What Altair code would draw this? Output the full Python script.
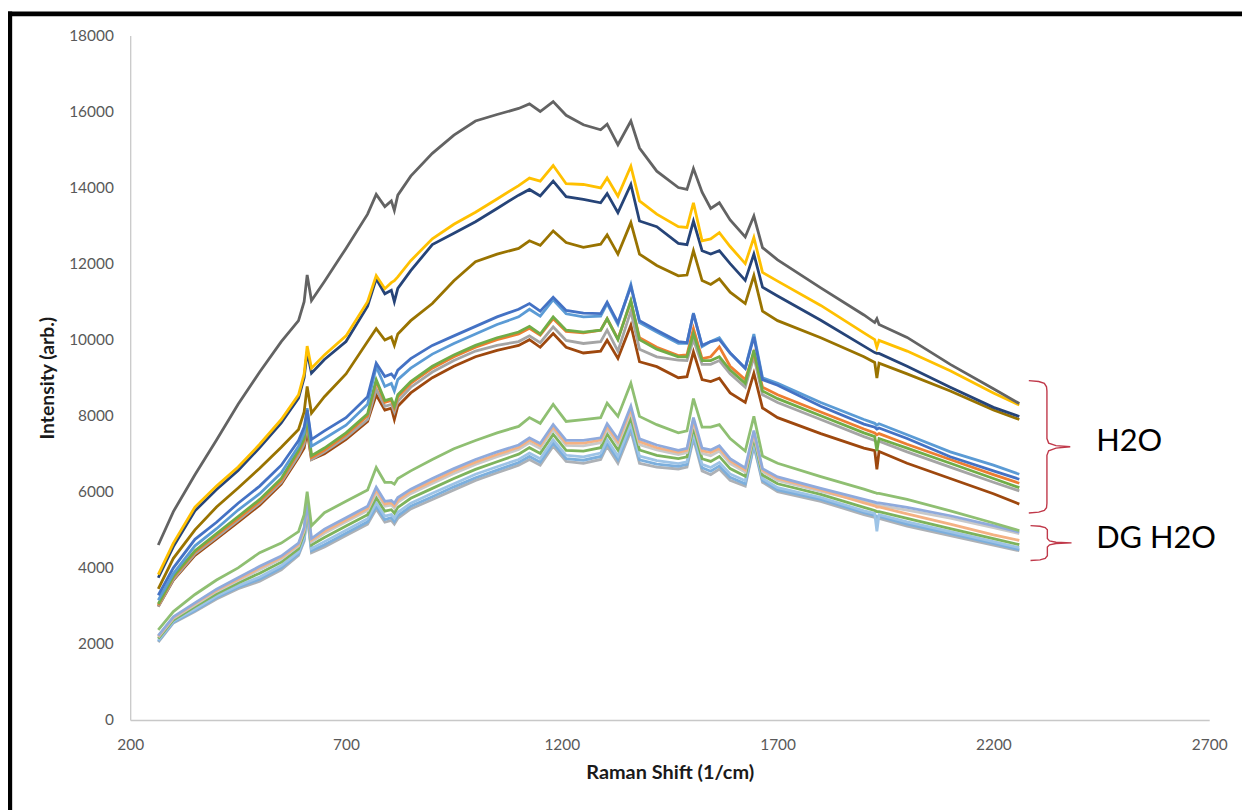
import altair as alt
import pandas as pd

# Raman shift grid (1/cm)
raman_shift = [265, 300, 350, 400, 450, 500, 550, 590,
               603, 610, 620, 650, 700, 750, 770, 790,
               805, 812, 820, 850, 900, 950, 1000, 1050,
               1100, 1125, 1150, 1180, 1210, 1250, 1290, 1305,
               1330, 1360, 1380, 1420, 1470, 1490, 1505, 1525,
               1545, 1565, 1590, 1625, 1645, 1665, 1700, 1800,
               1900, 1925, 1930, 1935, 2000, 2100, 2200, 2260]

# ---- H2O group (top four) ----
h2o_dark_gray = [4600, 5480, 6450, 7360, 8300, 9150, 9950, 10500,
                 11000, 11700, 11030, 11530, 12400, 13300, 13820, 13500,
                 13650, 13400, 13800, 14300, 14900, 15380, 15750, 15920,
                 16080, 16200, 16000, 16260, 15900, 15650, 15520, 15665,
                 15125, 15750, 15040, 14430, 14000, 13950, 14500, 13880,
                 13450, 13600, 13150, 12700, 13250, 12420, 12100, 11360,
                 10650, 10450, 10550, 10400, 10060, 9350, 8710, 8320]
h2o_gold = [3820, 4650, 5600, 6150, 6650, 7250, 7900, 8550,
            9100, 9830, 9250, 9600, 10100, 11000, 11685, 11340,
            11500, 11550, 11650, 12077, 12650, 13035, 13350, 13700,
            14050, 14250, 14170, 14580, 14100, 14080, 13990, 14253,
            13775, 14560, 13650, 13300, 12970, 12950, 13600, 12600,
            12650, 12816, 12450, 12000, 12685, 11770, 11540, 10900,
            10180, 10000, 9800, 9980, 9700, 9180, 8600, 8280]
h2o_navy = [3740, 4560, 5500, 6060, 6560, 7160, 7810, 8460,
            9000, 9680, 9120, 9480, 9950, 10880, 11600, 11207,
            11300, 11000, 11350, 11815, 12500, 12800, 13100, 13450,
            13800, 13950, 13780, 14170, 13760, 13690, 13600, 13840,
            13340, 14080, 13120, 12970, 12530, 12500, 13120, 12340,
            12250, 12340, 12000, 11560, 12250, 11380, 11150, 10510,
            9830, 9660, 9640, 9640, 9300, 8750, 8220, 7980]
h2o_olive = [3450, 4250, 5000, 5600, 6100, 6620, 7170, 7640,
             8100, 8770, 8070, 8500, 9100, 9950, 10290, 9990,
             10070, 9850, 10150, 10500, 10950, 11550, 12050, 12250,
             12400, 12600, 12480, 12860, 12555, 12430, 12510, 12755,
             12250, 13077, 12250, 11950, 11680, 11700, 12340, 11555,
             11450, 11600, 11250, 10950, 11685, 10750, 10500, 10050,
             9550, 9400, 8990, 9380, 9100, 8650, 8150, 7900]

# ---- H2O group (middle six) ----
h2o_blue = [3280, 4000, 4750, 5200, 5700, 6150, 6700, 7350,
            7700, 8150, 7380, 7600, 7950, 8500, 9380, 9030,
            9100, 9000, 9200, 9500, 9850, 10100, 10350, 10600,
            10800, 10950, 10750, 11118, 10770, 10700, 10685, 10988,
            10450, 11400, 10500, 10250, 9950, 9920, 10685, 9850,
            9950, 10000, 9650, 9250, 10073, 8950, 8800, 8250,
            7780, 7700, 7650, 7680, 7400, 6920, 6550, 6330]
h2o_light_blue = [3150, 3850, 4580, 5030, 5520, 5950, 6500, 7200,
                  7550, 8200, 7200, 7400, 7750, 8300, 9290, 8770,
                  8850, 8650, 8950, 9250, 9620, 9900, 10150, 10400,
                  10600, 10800, 10620, 11050, 10680, 10600, 10620, 10950,
                  10400, 11450, 10450, 10200, 9900, 9900, 10700, 9820,
                  9950, 10050, 9650, 9250, 10150, 9000, 8850, 8350,
                  7900, 7800, 7750, 7790, 7500, 7050, 6700, 6460]
h2o_green = [3050, 3780, 4450, 4900, 5350, 5800, 6350, 7100,
             7400, 8000, 6950, 7150, 7550, 8050, 8950, 8400,
             8450, 8250, 8550, 8900, 9300, 9600, 9850, 10050,
             10200, 10350, 10150, 10600, 10250, 10200, 10250, 10550,
             10000, 11030, 10000, 9750, 9550, 9550, 10160, 9450,
             9450, 9550, 9200, 8850, 9725, 8650, 8450, 8000,
             7550, 7450, 7070, 7400, 7150, 6750, 6350, 6110]
h2o_orange = [3020, 3750, 4420, 4860, 5300, 5750, 6300, 7050,
              7350, 7950, 6900, 7100, 7500, 8000, 8900, 8350,
              8400, 8200, 8500, 8850, 9250, 9550, 9800, 10000,
              10150, 10300, 10120, 10550, 10220, 10180, 10250, 10550,
              10020, 11000, 10050, 9800, 9580, 9600, 10290, 9500,
              9550, 9812, 9300, 8950, 9650, 8750, 8550, 8100,
              7650, 7550, 7500, 7530, 7250, 6850, 6450, 6225]
h2o_gray = [2980, 3700, 4370, 4800, 5250, 5700, 6250, 6950,
            7250, 7800, 6850, 7050, 7430, 7900, 8700, 8250,
            8300, 8100, 8380, 8750, 9150, 9450, 9700, 9850,
            9950, 10100, 9920, 10335, 9980, 9900, 9950, 10250,
            9700, 10750, 9750, 9550, 9465, 9450, 10000, 9350,
            9350, 9450, 9100, 8750, 9550, 8550, 8350, 7900,
            7450, 7350, 7300, 7330, 7050, 6650, 6250, 6024]
h2o_brown = [2980, 3680, 4330, 4760, 5200, 5650, 6200, 6900,
             7150, 7600, 6850, 7000, 7380, 7850, 8550, 8150,
             8200, 7900, 8250, 8600, 9000, 9300, 9550, 9720,
             9850, 10000, 9800, 10160, 9800, 9650, 9700, 9987,
             9509, 10380, 9420, 9290, 9000, 9028, 9680, 8950,
             8900, 8986, 8600, 8350, 9117, 8203, 7950, 7530,
             7150, 7080, 6590, 7060, 6750, 6350, 5950, 5676]

# ---- DG H2O group ----
dg_light_green = [2370, 2850, 3300, 3680, 4000, 4400, 4650, 4950,
                  5400, 6000, 5110, 5450, 5750, 6050, 6640, 6250,
                  6250, 6200, 6350, 6550, 6850, 7130, 7350, 7550,
                  7720, 7950, 7800, 8300, 7850, 7900, 7950, 8333,
                  7983, 8856, 7983, 7766, 7550, 7600, 8450, 7700,
                  7700, 7766, 7400, 7070, 7983, 6938, 6750, 6400,
                  6070, 5980, 5960, 5960, 5800, 5500, 5180, 4980]
dg_lavender = [2220, 2710, 3080, 3440, 3740, 4040, 4310, 4650,
               5060, 5710, 4770, 5020, 5320, 5620, 6120, 5750,
               5770, 5700, 5850, 6070, 6350, 6610, 6850, 7050,
               7230, 7420, 7270, 7770, 7350, 7350, 7420, 7790,
               7390, 8250, 7390, 7230, 7090, 7140, 7950, 7150,
               7100, 7210, 6870, 6630, 7610, 6610, 6390, 6090,
               5800, 5730, 5710, 5710, 5590, 5370, 5110, 4940]
dg_light_orange = [2200, 2690, 3060, 3410, 3700, 4000, 4270, 4610,
                   5020, 5680, 4730, 4960, 5260, 5560, 6050, 5680,
                   5710, 5630, 5780, 6010, 6280, 6550, 6780, 6980,
                   7170, 7360, 7210, 7710, 7280, 7280, 7360, 7720,
                   7320, 8180, 7320, 7160, 7040, 7090, 7880, 7080,
                   7030, 7140, 6810, 6570, 7560, 6570, 6350, 6050,
                   5710, 5630, 5600, 5600, 5420, 5150, 4870, 4720]
dg_light_gray = [2180, 2670, 3030, 3380, 3670, 3950, 4230, 4580,
                 4980, 5640, 4680, 4910, 5210, 5510, 5980, 5620,
                 5650, 5570, 5720, 5950, 6220, 6480, 6720, 6920,
                 7110, 7290, 7140, 7640, 7220, 7210, 7290, 7650,
                 7240, 8100, 7240, 7100, 6980, 7030, 7820, 7010,
                 6950, 7070, 6740, 6520, 7510, 6530, 6300, 6010,
                 5740, 5670, 5640, 5640, 5520, 5310, 5060, 4900]
dg_green = [2140, 2630, 2980, 3320, 3600, 3860, 4150, 4500,
            4900, 5570, 4600, 4800, 5100, 5400, 5850, 5490,
            5530, 5440, 5590, 5830, 6090, 6350, 6590, 6790,
            6990, 7160, 7010, 7510, 7090, 7070, 7160, 7520,
            7100, 7950, 7100, 6960, 6870, 6920, 7690, 6870,
            6800, 6930, 6610, 6410, 7420, 6440, 6210, 5930,
            5590, 5510, 5480, 5480, 5300, 5030, 4770, 4610]
dg_pale_blue = [2100, 2600, 2920, 3260, 3530, 3760, 4060, 4420,
                4810, 5490, 4510, 4690, 4990, 5290, 5710, 5360,
                5400, 5310, 5460, 5700, 5960, 6210, 6460, 6660,
                6850, 7020, 6870, 7370, 6960, 6920, 7020, 7370,
                6940, 7790, 6940, 6820, 6740, 6790, 7560, 6720,
                6640, 6770, 6470, 6290, 7320, 6350, 6110, 5850,
                5500, 5430, 4960, 5400, 5210, 4950, 4690, 4530]
dg_sky_blue = [2070, 2570, 2880, 3220, 3490, 3700, 4000, 4370,
               4750, 5440, 4450, 4610, 4910, 5210, 5620, 5270,
               5320, 5220, 5370, 5620, 5870, 6130, 6370, 6570,
               6770, 6930, 6780, 7280, 6870, 6830, 6930, 7280,
               6840, 7690, 6840, 6730, 6670, 6720, 7470, 6630,
               6540, 6680, 6380, 6210, 7250, 6300, 6050, 5800,
               5450, 5380, 5350, 5350, 5150, 4900, 4640, 4480]
dg_gray = [2050, 2550, 2850, 3180, 3450, 3650, 3950, 4326,
           4700, 5400, 4400, 4550, 4850, 5150, 5546, 5200,
           5250, 5150, 5300, 5550, 5800, 6050, 6300, 6500,
           6700, 6850, 6700, 7200, 6800, 6750, 6850, 7200,
           6750, 7600, 6750, 6650, 6600, 6650, 7400, 6550,
           6450, 6600, 6300, 6150, 7200, 6250, 6000, 5750,
           5400, 5330, 5300, 5300, 5100, 4850, 4600, 4450]

series_names = ["DG 8", "DG 7", "DG 6", "DG 5", "DG 4", "DG 3", "DG 2", "DG 1",
                "H2O 10", "H2O 9", "H2O 8", "H2O 7", "H2O 6", "H2O 5",
                "H2O 4", "H2O 3", "H2O 2", "H2O 1"]
series_values = [dg_gray, dg_sky_blue, dg_pale_blue, dg_green, dg_light_gray,
                 dg_light_orange, dg_lavender, dg_light_green,
                 h2o_brown, h2o_gray, h2o_orange, h2o_green, h2o_light_blue, h2o_blue,
                 h2o_olive, h2o_navy, h2o_gold, h2o_dark_gray]
series_colors = ["#ADB1B6", "#7CAFDD", "#9DC3E6", "#7DB35C", "#C9C9C9",
                 "#F4B183", "#8FAADC", "#8FBF72",
                 "#9E480E", "#A5A5A5", "#ED7D31", "#70AD47", "#5B9BD5", "#4472C4",
                 "#997300", "#264478", "#FFC000", "#636363"]

# annotation braces (data units) and labels
brace_h2o_x = [2282, 2305, 2318, 2323, 2324, 2324, 2328, 2345, 2378, 2345, 2328, 2324, 2324, 2323, 2318, 2305, 2282]
brace_h2o_y = [8924, 8900, 8850, 8760, 8650, 7400, 7280, 7215, 7184, 7150, 7080, 6960, 5700, 5580, 5510, 5465, 5442]
brace_dg_x = [2286, 2308, 2320, 2325, 2325, 2330, 2345, 2381, 2345, 2330, 2325, 2325, 2320, 2308, 2286]
brace_dg_y = [5110, 5095, 5060, 5000, 4770, 4710, 4675, 4658, 4640, 4605, 4545, 4320, 4250, 4210, 4195]
label_text = ["H2O", "DG H2O"]
label_x = [2438, 2438]
label_y = [7296, 4763]

for vals in series_values:
    assert len(vals) == len(raman_shift), len(vals)

rows = []
for name, vals in zip(series_names, series_values):
    for xv, yv in zip(raman_shift, vals):
        rows.append({"x": xv, "y": yv, "series": name})
df = pd.DataFrame(rows)

brows = []
for i, (xv, yv) in enumerate(zip(brace_h2o_x, brace_h2o_y)):
    brows.append({"x": xv, "y": yv, "grp": "h2o", "idx": i})
for i, (xv, yv) in enumerate(zip(brace_dg_x, brace_dg_y)):
    brows.append({"x": xv, "y": yv, "grp": "dg", "idx": i})
bdf = pd.DataFrame(brows)

ldf = pd.DataFrame({"x": label_x, "y": label_y, "t": label_text})

FONT = "Lato"

x_axis = alt.Axis(values=[200, 700, 1200, 1700, 2200, 2700], format="d", grid=False,
                  ticks=False, tickSize=0, domainColor="#C8C8C8", domainWidth=1.3,
                  labelColor="#595959", labelFont=FONT, labelFontSize=15.5,
                  labelPadding=18, labelFlush=False,
                  title="Raman Shift (1/cm)", titleFont=FONT, titleFontSize=20,
                  titleFontWeight="bold", titleColor="#1a1a1a",
                  titleX=543, titleY=53, titleBaseline="middle", titleAlign="center")
y_axis = alt.Axis(values=list(range(0, 18001, 2000)), format="d", grid=False,
                  ticks=False, tickSize=0, domainColor="#C8C8C8", domainWidth=1.3,
                  labelColor="#595959", labelFont=FONT, labelFontSize=15.5,
                  labelPadding=17, labelFlush=False,
                  title="Intensity (arb.)", titleFont=FONT, titleFontSize=19.5,
                  titleFontWeight="bold", titleColor="#1a1a1a",
                  titleX=-83, titleY=344.5, titleAngle=270,
                  titleBaseline="middle", titleAlign="center")

xs = alt.Scale(domain=[200, 2700], nice=False, zero=False)
ys = alt.Scale(domain=[0, 18000], nice=False, zero=False)

lines = alt.Chart(df).mark_line(strokeWidth=2.8).encode(
    x=alt.X("x:Q", scale=xs, axis=x_axis),
    y=alt.Y("y:Q", scale=ys, axis=y_axis),
    color=alt.Color("series:N", scale=alt.Scale(domain=series_names, range=series_colors),
                    legend=None),
)

braces = alt.Chart(bdf).mark_line(color="#C0394A", strokeWidth=1.4).encode(
    x="x:Q", y="y:Q", detail="grp:N", order="idx:Q"
)

labels = alt.Chart(ldf).mark_text(align="left", baseline="middle", fontSize=31,
                                  font=FONT, color="#000000").encode(
    x="x:Q", y="y:Q", text="t:N"
)

frame_data = alt.Data(values=[{"k": 1}])
frame_top = alt.Chart(frame_data).mark_rule(color="#000000", strokeWidth=4.8).encode(
    x=alt.value(-124), x2=alt.value(1300), y=alt.value(-21.6)
)
frame_left = alt.Chart(frame_data).mark_rule(color="#000000", strokeWidth=5).encode(
    x=alt.value(-121.3), y=alt.value(-24), y2=alt.value(900)
)

chart = alt.layer(lines, braces, labels, frame_top, frame_left).properties(
    width=1086, height=689,
    padding={"left": 123, "top": 25, "right": 33, "bottom": 88},
    autosize=alt.AutoSizeParams(type="none"),
    background="white",
).configure_view(stroke=None)

chart.save("out.html", embed_options={"renderer": "svg", "actions": False})
